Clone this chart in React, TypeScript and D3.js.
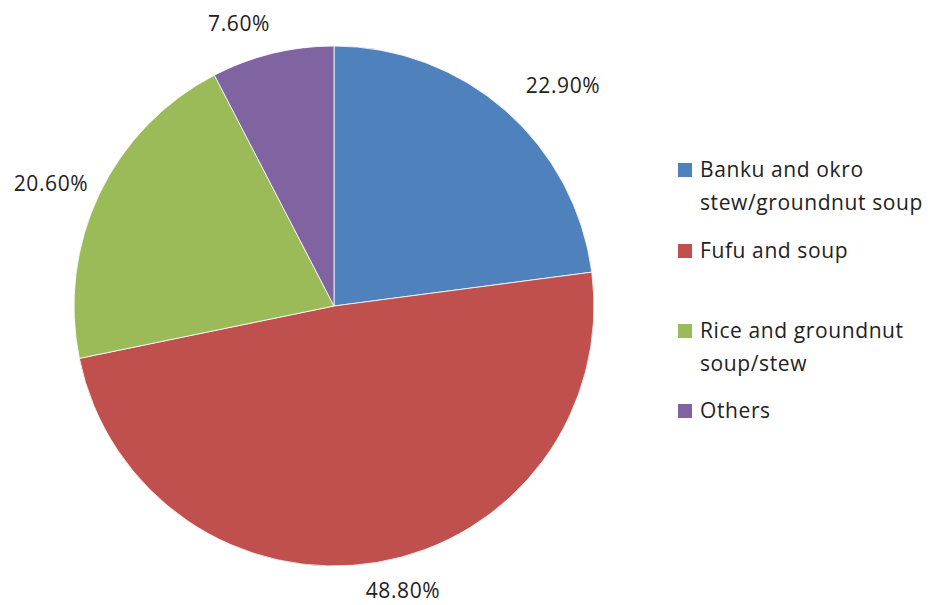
import React from "react";
import * as d3 from "d3";

const categories = ["Banku and okro stew/groundnut soup", "Fufu and soup", "Rice and groundnut soup/stew", "Others"];
const values = [22.9, 48.8, 20.6, 7.6];
const valueLabels = ["22.90%", "48.80%", "20.60%", "7.60%"];
const legendLines = [["Banku and okro", "stew/groundnut soup"], ["Fufu and soup"], ["Rice and groundnut", "soup/stew"], ["Others"]];
const colors = ["#4F81BD", "#C0504D", "#9BBB59", "#8064A2"];

const W = 937, H = 605;
const cx = 334, cy = 306, R = 260;
const labelPos: [number, number][] = [[563, 93], [403, 598], [51, 191], [239, 31]];
const legendY = [177, 258, 338, 418];

export default function App() {
  const pie = d3.pie<number>().sort(null).value((d) => d)(values);
  const arc = d3.arc<d3.PieArcDatum<number>>().innerRadius(0).outerRadius(R);
  const font = "'Open Sans', 'Liberation Sans', sans-serif";
  return (
    <svg width={W} height={H} style={{ position: "absolute", left: 0, top: 0 }} fontFamily={font}>
      <rect width={W} height={H} fill="#fff" />
      <g transform={`translate(${cx},${cy})`}>
        {pie.map((p, i) => (
          <path key={i} d={arc(p) || ""} fill={colors[i]} stroke="#fff" strokeWidth={0.8} />
        ))}
      </g>
      {valueLabels.map((t, i) => (
        <text key={i} x={labelPos[i][0]} y={labelPos[i][1]} textAnchor="middle" fontSize={21} letterSpacing={0.6} fill="#222">{t}</text>
      ))}
      {legendLines.map((lines, i) => (
        <g key={i}>
          <rect x={678} y={legendY[i] - 14} width={14} height={14} fill={colors[i]} />
          {lines.map((l, j) => (
            <text key={j} x={700} y={legendY[i] + j * 33} fontSize={21} letterSpacing={0.6} fill="#222">{l}</text>
          ))}
        </g>
      ))}
    </svg>
  );
}
